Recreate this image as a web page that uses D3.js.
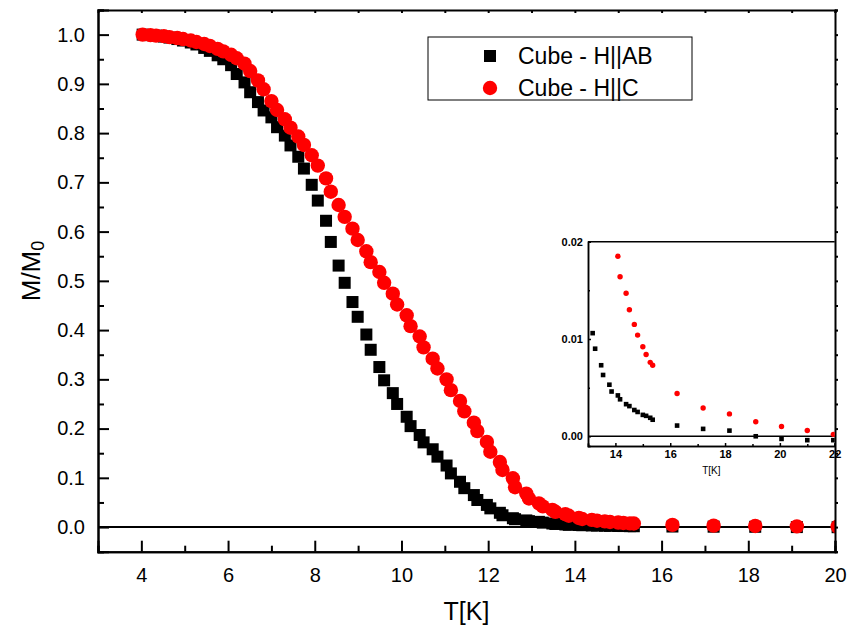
<!DOCTYPE html>
<html lang="en">
  <head>
    <meta charset="utf-8">
    <title>M/M0 vs T</title>
    <script src="https://cdn.jsdelivr.net/npm/d3@7"></script>
    <style>
    body{margin:0;background:#fff;}
    svg{font-family:"Liberation Sans",Arial,sans-serif;}
    .axis path,.axis line{stroke:#000;stroke-width:2px;}
    .axis text{font-size:20px;fill:#000;}
    .inset .axis path,.inset .axis line{stroke-width:1.5px;}
    .inset .axis text{font-size:11px;font-weight:bold;}
    </style>
  </head>
  <body>
    <svg></svg>
    <script>
      // temperatures (K), shared by both measurements
      var temps=[4.03,4.21,4.34,4.52,4.65,4.83,4.96,5.14,5.27,5.45,5.58,5.76,5.89,
        6.07,6.20,6.38,6.51,6.69,6.82,7.00,7.13,7.31,7.44,7.62,7.75,7.93,8.07,
        8.26,8.37,8.55,8.69,8.87,8.99,9.19,9.29,9.49,9.60,9.80,9.90,10.12,10.21,
        10.42,10.51,10.72,10.83,11.04,11.14,11.35,11.45,11.67,11.75,11.97,12.05,
        12.27,12.33,12.57,12.62,12.88,12.94,13.17,13.26,13.48,13.55,13.78,13.86,
        14.09,14.17,14.39,14.51,14.69,14.81,15.00,15.12,15.27,15.36,
        16.25,17.20,18.16,19.12,20.06,21.00,21.95];
      // Cube - H||AB
      var mAB=[1.000,0.999,0.998,0.996,0.994,0.991,0.988,0.984,0.980,0.973,0.967,0.958,0.950,
        0.938,0.920,0.903,0.883,0.863,0.846,0.832,0.812,0.795,0.775,0.752,0.728,0.695,0.663,
        0.622,0.579,0.531,0.496,0.457,0.427,0.391,0.360,0.325,0.298,0.272,0.250,0.224,0.205,
        0.187,0.172,0.158,0.143,0.125,0.109,0.092,0.079,0.065,0.055,0.045,0.038,
        0.029,0.024,0.018,0.016,0.0135,0.012,0.0106,0.0090,0.0073,0.0063,0.0053,0.0046,
        0.0042,0.0038,0.0033,0.0031,0.0027,0.0025,0.0022,0.0021,0.0019,0.0017,
        0.0011,0.00076,0.00058,0.0000,-0.00027,-0.0004,-0.0004];
      // Cube - H||C
      var mC=[1.000,0.999,0.998,0.997,0.995,0.993,0.991,0.988,0.985,0.981,0.977,0.971,0.966,
        0.959,0.952,0.941,0.926,0.907,0.889,0.865,0.847,0.828,0.811,0.793,0.776,0.755,0.734,
        0.708,0.681,0.654,0.630,0.606,0.583,0.560,0.538,0.518,0.496,0.474,0.452,0.430,0.408,
        0.387,0.365,0.342,0.322,0.300,0.278,0.256,0.235,0.212,0.195,0.173,0.153,
        0.132,0.116,0.099,0.081,0.068,0.058,0.048,0.042,0.035,0.031,0.026,0.023,
        0.0185,0.0164,0.0147,0.0130,0.0115,0.0104,0.0092,0.0084,0.0076,0.0073,
        0.0044,0.0029,0.0023,0.0015,0.0010,0.0006,0.0002];
      var seriesNames=["Cube - H||AB","Cube - H||C"];
      var xMajor=[4,6,8,10,12,14,16,18,20];
      var yMajor=[0,0.1,0.2,0.3,0.4,0.5,0.6,0.7,0.8,0.9,1.0];
      var insetXMajor=[14,16,18,20,22];
      var insetYMajor=[0,0.01,0.02];

      var width=850,height=633;
      var pLeft=98,pRight=835,pTop=10,pBottom=551.7;
      var svg=d3.select("svg").attr("width",width).attr("height",height);

      var pts=temps.map(function(t,i){return {t:t,ab:mAB[i],c:mC[i]};});

      var xscale=d3.scaleLinear().domain([3,20]).range([pLeft,pRight]);
      var yscale=d3.scaleLinear().domain([-0.05,1.05]).range([pBottom,pTop]);

      svg.append("clipPath").attr("id","clipMain")
         .append("rect").attr("x",pLeft).attr("y",pTop)
         .attr("width",pRight-pLeft).attr("height",pBottom-pTop);

      // zero line
      svg.append("line")
         .attr("x1",pLeft).attr("x2",pRight)
         .attr("y1",yscale(0)).attr("y2",yscale(0))
         .attr("stroke","#000").attr("stroke-width",2);

      var marks=svg.append("g").attr("clip-path","url(#clipMain)");
      marks.selectAll("rect.ab").data(pts).enter().append("rect")
         .attr("class","ab")
         .attr("x",function(d){return xscale(d.t)-6;})
         .attr("y",function(d){return yscale(d.ab)-6;})
         .attr("width",12).attr("height",12).attr("fill","#000");
      marks.selectAll("circle.c").data(pts).enter().append("circle")
         .attr("class","c")
         .attr("cx",function(d){return xscale(d.t);})
         .attr("cy",function(d){return yscale(d.c);})
         .attr("r",7.2).attr("fill","#ff0000");

      var minorX=d3.range(3,21,1).filter(function(v){return xMajor.indexOf(v)<0;});
      var minorY=d3.range(-0.05,1.06,0.1).map(function(v){return +v.toFixed(2);});

      // bottom axis
      svg.append("g").attr("class","axis")
         .attr("transform","translate(0,"+pBottom+")")
         .call(d3.axisBottom(xscale).tickValues(xMajor).tickSize(-11).tickPadding(16).tickFormat(d3.format("d")));
      svg.append("g").attr("class","axis")
         .attr("transform","translate(0,"+pBottom+")")
         .call(d3.axisBottom(xscale).tickValues(minorX).tickSize(-6).tickFormat(""));
      // left axis
      svg.append("g").attr("class","axis")
         .attr("transform","translate("+pLeft+",0)")
         .call(d3.axisLeft(yscale).tickValues(yMajor).tickSize(-11).tickPadding(13).tickFormat(d3.format(".1f")));
      svg.append("g").attr("class","axis")
         .attr("transform","translate("+pLeft+",0)")
         .call(d3.axisLeft(yscale).tickValues(minorY).tickSize(-6).tickFormat(""));
      // top and right mirror axes
      svg.append("g").attr("class","axis")
         .attr("transform","translate(0,"+pTop+")")
         .call(d3.axisTop(xscale).tickValues(d3.range(4,21,1)).tickSize(-3).tickFormat(""));
      svg.append("g").attr("class","axis")
         .attr("transform","translate("+pRight+",0)")
         .call(d3.axisRight(yscale).tickValues(yMajor.concat(minorY)).tickSize(3).tickFormat(""));

      svg.append("text")
         .attr("x",(pLeft+pRight)/2).attr("y",620)
         .attr("text-anchor","middle").attr("font-size",25)
         .text("T[K]");
      var ylab=svg.append("text")
         .attr("transform","translate(40,271) rotate(-90)")
         .attr("text-anchor","middle").attr("font-size",26);
      ylab.append("tspan").text("M/M");
      ylab.append("tspan").attr("font-size",18).attr("dy",4).text("0");

      // legend
      var lg=svg.append("g");
      lg.append("rect").attr("x",428).attr("y",37).attr("width",264).attr("height",63)
        .attr("fill","#fff").attr("stroke","#000").attr("stroke-width",1);
      lg.append("rect").attr("x",484).attr("y",50).attr("width",12).attr("height",12).attr("fill","#000");
      lg.append("circle").attr("cx",490).attr("cy",88).attr("r",7.2).attr("fill","#ff0000");
      lg.selectAll("text.lt").data(seriesNames).enter().append("text")
        .attr("class","lt")
        .attr("x",518).attr("y",function(d,i){return 64+i*32;})
        .attr("font-size",23)
        .text(function(d){return d;});

      // inset
      var il=588,ir=834.7,it=241.7,ib=446;
      var ix=d3.scaleLinear().domain([13,22]).range([il,ir]);
      var iy=d3.scaleLinear().domain([-0.001,0.02]).range([ib,it]);
      var inset=svg.append("g").attr("class","inset");
      inset.append("clipPath").attr("id","clipInset")
         .append("rect").attr("x",il).attr("y",it)
         .attr("width",ir-il).attr("height",ib-it);
      inset.append("line")
         .attr("x1",il).attr("x2",ir).attr("y1",iy(0)).attr("y2",iy(0))
         .attr("stroke","#000").attr("stroke-width",1.5);
      var im=inset.append("g").attr("clip-path","url(#clipInset)");
      im.selectAll("rect").data(pts).enter().append("rect")
         .attr("x",function(d){return ix(d.t)-2.3;})
         .attr("y",function(d){return iy(d.ab)-2.3;})
         .attr("width",4.6).attr("height",4.6).attr("fill","#000");
      im.selectAll("circle").data(pts).enter().append("circle")
         .attr("cx",function(d){return ix(d.t);})
         .attr("cy",function(d){return iy(d.c);})
         .attr("r",2.7).attr("fill","#ff0000");
      inset.append("g").attr("class","axis")
         .attr("transform","translate(0,"+ib+")")
         .call(d3.axisBottom(ix).tickValues(insetXMajor).tickSize(-3).tickPadding(4).tickFormat(d3.format("d")));
      inset.append("g").attr("class","axis")
         .attr("transform","translate(0,"+ib+")")
         .call(d3.axisBottom(ix).tickValues([15,17,19,21]).tickSize(-2).tickFormat(""));
      inset.append("g").attr("class","axis")
         .attr("transform","translate("+il+",0)")
         .call(d3.axisLeft(iy).tickValues(insetYMajor).tickSize(-3).tickPadding(5).tickFormat(d3.format(".2f")));
      inset.append("g").attr("class","axis")
         .attr("transform","translate("+il+",0)")
         .call(d3.axisLeft(iy).tickValues([0.005,0.015]).tickSize(-2).tickFormat(""));
      inset.append("line")
         .attr("x1",il).attr("x2",ir).attr("y1",it).attr("y2",it)
         .attr("stroke","#000").attr("stroke-width",1.5);
      inset.append("text")
         .attr("x",(il+ir)/2).attr("y",474)
         .attr("text-anchor","middle").attr("font-size",10)
         .text("T[K]");
    </script>
  </body>
</html>
